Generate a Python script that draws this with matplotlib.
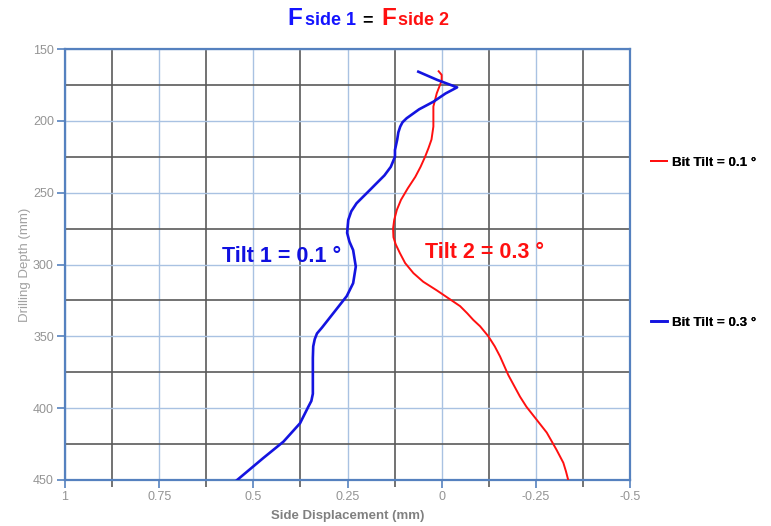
import matplotlib
matplotlib.use("Agg")
import matplotlib.pyplot as plt
from matplotlib.ticker import FixedLocator, FuncFormatter

plt.rcParams['font.family'] = ['Liberation Sans', 'DejaVu Sans']

# ---- data (depth in mm, side displacement in mm) ----
blue_depth = [165.8, 171.5, 176.7, 181, 186.7, 192, 198.2, 201, 204, 208, 213, 220.3, 225, 232,
              238, 243.5, 248, 254, 257.4, 263, 269, 278, 284, 290, 301.5, 313, 322, 334, 344,
              348, 352, 357, 365, 373, 390, 395, 399, 410.5, 423.3, 434.8, 450]
blue_disp = [0.062, 0.012, -0.041, -0.01, 0.022, 0.06, 0.093, 0.104, 0.110, 0.115, 0.118, 0.124,
             0.124, 0.135, 0.152, 0.173, 0.19, 0.213, 0.226, 0.24, 0.248, 0.251, 0.245, 0.235,
             0.228, 0.235, 0.252, 0.288, 0.318, 0.331, 0.337, 0.341, 0.342, 0.342, 0.342, 0.346,
             0.354, 0.376, 0.42, 0.474, 0.543]

red_depth = [165.5, 168, 172, 180.8, 190, 204, 213, 219, 225, 232, 239, 247, 255, 262, 269, 275,
             281, 286, 292, 299, 306, 312, 318, 323.5, 329, 334, 338.6, 343, 350, 357, 364, 377,
             392, 399, 408, 417, 429, 438, 444, 450]
red_disp = [0.008, 0.0, 0.0, 0.013, 0.022, 0.022, 0.027, 0.035, 0.044, 0.056, 0.07, 0.09, 0.108,
            0.119, 0.126, 0.129, 0.128, 0.122, 0.111, 0.097, 0.075, 0.049, 0.013, -0.018, -0.049,
            -0.068, -0.084, -0.102, -0.124, -0.141, -0.155, -0.177, -0.208, -0.225, -0.252, -0.279,
            -0.305, -0.323, -0.33, -0.336]

x_major = [1, 0.75, 0.5, 0.25, 0, -0.25, -0.5]
x_minor = [0.875, 0.625, 0.375, 0.125, -0.125, -0.375]
y_major = [150, 200, 250, 300, 350, 400, 450]
y_minor = [175, 225, 275, 325, 375, 425]

label_red = "Bit Tilt = 0.1 \u00b0"
label_blue = "Bit Tilt = 0.3 \u00b0"

W, H = 771, 526
fig = plt.figure(figsize=(W / 100, H / 100), dpi=100)
ax = fig.add_axes([65 / W, 1 - 480 / H, (630 - 65) / W, (480 - 49) / H])

spine_c = '#5581bf'
light_grid = '#a9c2e2'
dark_grid = '#5a5a5a'
tick_c = '#949494'

ax.set_xlim(1, -0.5)
ax.set_ylim(450, 150)
ax.xaxis.set_major_locator(FixedLocator(x_major))
ax.xaxis.set_minor_locator(FixedLocator(x_minor))
ax.yaxis.set_major_locator(FixedLocator(y_major))
ax.yaxis.set_minor_locator(FixedLocator(y_minor))
ax.xaxis.set_major_formatter(FuncFormatter(lambda v, p: f"{v:g}"))

ax.grid(which='major', color=light_grid, lw=1.0, zorder=0)
ax.grid(which='minor', color=dark_grid, lw=1.2, zorder=0)
ax.set_axisbelow(True)

for s in ax.spines.values():
    s.set_color(spine_c)
    s.set_linewidth(1.6)

ax.tick_params(which='major', direction='out', length=6, width=1.2, color=spine_c,
               labelcolor=tick_c, labelsize=9)
ax.tick_params(axis='x', which='major', pad=2)
ax.tick_params(axis='y', which='major', pad=2)
ax.tick_params(axis='x', which='minor', direction='out', length=5, width=1.2, color=dark_grid)
ax.tick_params(axis='y', which='minor', length=0)

l_red, = ax.plot(red_disp, red_depth, color='#ff1010', lw=1.4, zorder=3,
                 solid_joinstyle='round')
l_blue, = ax.plot(blue_disp, blue_depth, color='#1414e0', lw=1.9, zorder=4,
                  solid_joinstyle='round')

ax.set_xlabel("Side Displacement (mm)", fontsize=9.5, fontweight='bold', color='#808080',
              labelpad=5)
ax.set_ylabel("Drilling Depth (mm)", fontsize=9.5, color='#a0a0a0', labelpad=1)

# annotations inside the plot
ax.text(0.583, 298.2, "Tilt 1 = 0.1 \u00b0", color='#1010e0', fontsize=15.5, fontweight='bold',
        va='baseline', ha='left', zorder=5)
ax.text(0.044, 295.7, "Tilt 2 = 0.3 \u00b0", color='#ff1010', fontsize=15.5, fontweight='bold',
        va='baseline', ha='left', zorder=5)

# legends on the right
for line, lab, ypx in [(l_red, label_red, 163), (l_blue, label_blue, 323)]:
    lg = fig.legend([line], [lab], loc='center left', bbox_to_anchor=(651 / W, 1 - ypx / H),
                    bbox_transform=fig.transFigure, frameon=False, handlelength=1.2,
                    handletextpad=0.35, borderpad=0, borderaxespad=0,
                    prop={'size': 9.6, 'weight': 'bold'})
    fig.add_artist(lg)

# title pieces
base = 1 - 25 / H
fig.text(287 / W, base, "F", color='#1414ff', fontsize=17.5, fontweight='bold', va='baseline')
fig.text(305 / W, base, "side 1", color='#1414ff', fontsize=13, fontweight='bold', va='baseline')
fig.text(362 / W, base, "=", color='black', fontsize=13, fontweight='bold', va='baseline')
fig.text(381 / W, base, "F", color='#ff1010', fontsize=17.5, fontweight='bold', va='baseline')
fig.text(398 / W, base, "side 2", color='#ff1010', fontsize=13, fontweight='bold', va='baseline')

fig.savefig("out.png", dpi=100, facecolor='white')
